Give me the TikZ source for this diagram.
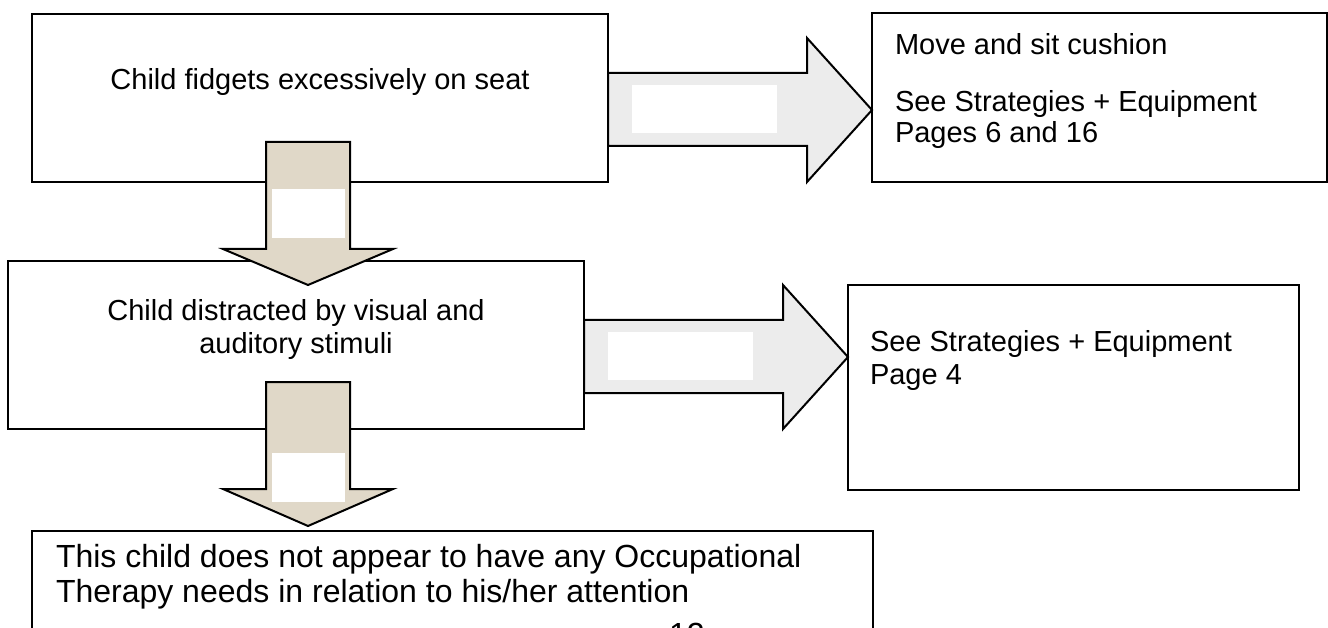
\documentclass[tikz,border=0pt]{standalone}
\usepackage{fontspec}
\setmainfont{Liberation Sans}
\usetikzlibrary{calc}
\definecolor{greyfill}{RGB}{236,236,236}
\definecolor{beigefill}{RGB}{224,216,200}
\begin{document}
\begin{tikzpicture}[x=1pt,y=-1pt,
  box/.style={draw=black,line width=2pt,fill=white,rectangle,inner sep=0pt,outer sep=0pt,anchor=north west},
  blank/.style={fill=white,rectangle,inner sep=0pt,outer sep=0pt,anchor=north west},
  rarrow/.style={draw=black,line width=2pt,fill=greyfill,line join=miter},
  darrow/.style={draw=black,line width=2pt,fill=beigefill,line join=miter},
  txt/.style={font=\fontsize{29}{33}\selectfont,inner sep=0pt,outer sep=0pt},
  bigtxt/.style={font=\fontsize{32}{35}\selectfont,inner sep=0pt,outer sep=0pt}]
\useasboundingbox (0,0) rectangle (1328,628);
\clip (0,0) rectangle (1328,628);

% left column boxes
\node[box,minimum width=576pt,minimum height=168pt] (b1) at (32,14) {};
\node[box,minimum width=576pt,minimum height=168pt] (b2) at (8,261) {};
\node[box,minimum width=841pt,minimum height=130pt] (b3) at (32,531) {};

% right column boxes
\node[box,minimum width=455pt,minimum height=169pt] (r1) at (872,13) {};
\node[box,minimum width=451pt,minimum height=205pt] (r2) at (848,285) {};

% block arrows to the right
\draw[rarrow] (b1.east |- 0,73) -- (807,73) -- (807,38) -- (r1.west |- 0,110)
  -- (807,182) -- (807,146) -- (b1.east |- 0,146) -- cycle;
\draw[rarrow] (b2.east |- 0,320) -- (783,320) -- (783,285) -- (r2.west |- 0,357)
  -- (783,429) -- (783,393) -- (b2.east |- 0,393) -- cycle;

% block arrows downwards
\draw[darrow] (266,142) -- (350,142) -- (350,249) -- (393,249) -- (308,285)
  -- (223,249) -- (266,249) -- cycle;
\draw[darrow] (266,382) -- (350,382) -- (350,489) -- (393,489) -- (308,526)
  -- (223,489) -- (266,489) -- cycle;

% empty text boxes on the arrows
\node[blank,minimum width=145pt,minimum height=48pt] (l1) at (632,85) {};
\node[blank,minimum width=145pt,minimum height=48pt] (l2) at (608,332) {};
\node[blank,minimum width=73pt,minimum height=49pt] (l3) at (272,189) {};
\node[blank,minimum width=73pt,minimum height=49pt] (l4) at (272,453) {};

% texts
\node[txt,anchor=base] (t1) at (320,90) {Child fidgets excessively on seat};
\node[txt,anchor=base] (t2a) at (296,321) {Child distracted by visual and};
\node[txt,anchor=base] (t2b) at (296,353) {auditory stimuli};

\node[txt,anchor=base west] (t3a) at (895,55) {Move and sit cushion};
\node[txt,anchor=base west] (t3b) at (895,112) {See Strategies + Equipment};
\node[txt,anchor=base west] (t3c) at (895,143) {Pages 6 and 16};

\node[txt,anchor=base west] (t4a) at (870,352) {See Strategies + Equipment};
\node[txt,anchor=base west] (t4b) at (870,384) {Page 4};

\node[bigtxt,anchor=base west] (t5a) at (56,567) {This child does not appear to have any Occupational};
\node[bigtxt,anchor=base west] (t5b) at (56,602) {Therapy needs in relation to his/her attention};

\node[bigtxt,anchor=base west] (pg) at (669,645) {12};
\end{tikzpicture}
\end{document}
